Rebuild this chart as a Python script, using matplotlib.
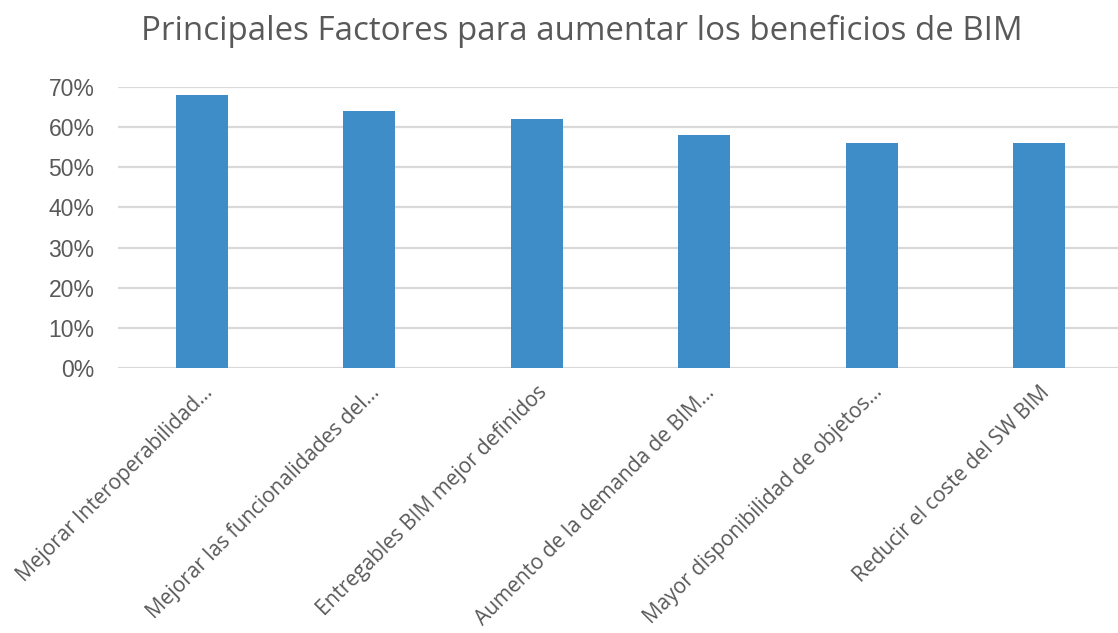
import matplotlib.pyplot as plt
from matplotlib.ticker import PercentFormatter

# Data
factores = ['Mejorar Interoperabilidad...',
            'Mejorar las funcionalidades del...',
            'Entregables BIM mejor definidos',
            'Aumento de la demanda de BIM...',
            'Mayor disponibilidad de objetos...',
            'Reducir el coste del SW BIM']
valores = [68, 64, 62, 58, 56, 56]

fig = plt.figure(figsize=(11.18, 6.33), dpi=100)
ax = fig.add_axes([118 / 1118, 1 - 368 / 633, 1000 / 1118, (368 - 87) / 633])

x = range(len(factores))
ax.bar(x, valores, width=0.31, color='#3F8DC8', zorder=3)

ax.set_ylim(0, 70)
ax.set_xlim(-0.5, 5.47)
ax.set_yticks(range(0, 71, 10))
ax.yaxis.set_major_formatter(PercentFormatter(decimals=0))
ax.grid(axis='y', color='#D9D9D9', linewidth=1.6, zorder=0)
for s in ax.spines.values():
    s.set_visible(False)
ax.tick_params(axis='both', length=0)
ax.tick_params(axis='y', labelsize=16.5, labelcolor='#595959', pad=17)
for lbl in ax.get_yticklabels():
    lbl.set_fontfamily('Liberation Sans')

ax.set_xticks(list(x))
ax.set_xticklabels(factores, rotation=45, ha='right', rotation_mode='anchor',
                   fontsize=15, color='#595959', family='Open Sans')
ax.tick_params(axis='x', pad=10)

fig.text(582 / 1118, 1 - 31 / 633, 'Principales Factores para aumentar los beneficios de BIM',
         ha='center', va='center', fontsize=23.8, color='#595959', family='Open Sans')

fig.savefig('out.png', dpi=100)
